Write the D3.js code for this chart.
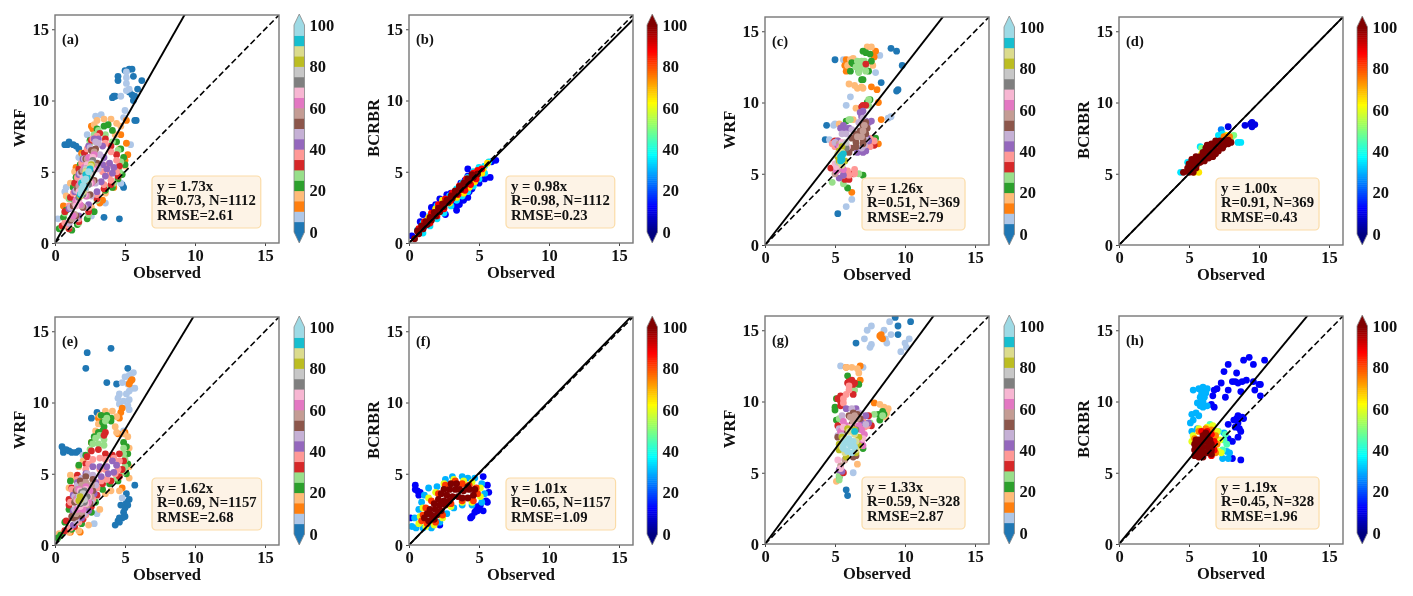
<!DOCTYPE html>
<html>
<head>
<meta charset="utf-8">
<script src="https://cdn.jsdelivr.net/npm/d3@7"></script>
<style>
  html, body { margin: 0; padding: 0; background: #fff; }
  svg { display: block; font-family: "Liberation Serif", serif; font-weight: bold; filter: blur(0.35px); }
</style>
</head>
<body>
<div id="chart"></div>
<script>
// values; each row is [density, x, y, x, y, ...]
const pointsA = [
  [3, 5.3,12.2, 5.0,12.1, 5.5,12.2, 4.5,11.7, 4.5,11.4, 5.6,11.7, 6.2,11.4, 5.3,10.6, 5.5,10.4, 5.7,10.3, 5.9,10.8, 5.6,10.0, 4.2,10.3, 4.3,10.3, 4.1,10.2, 5.8,8.6, 5.7,8.6, 0.7,6.9, 0.9,6.9, 1.0,7.1, 1.3,6.9, 1.5,6.8, 1.7,6.6, 3.5,1.8, 4.6,1.7, 4.9,3.9, 4.8,4.1],
  [8, 5.1,12.0, 5.1,11.6, 5.1,11.2, 5.3,10.8, 5.1,10.7, 4.7,10.3, 5.0,9.3, 4.9,8.8, 2.9,8.9, 3.3,9.0, 2.3,7.6, 1.7,6.0, 5.4,6.9, 4.7,4.2, 2.6,1.9, 3.6,2.8, 0.2,1.7, 0.8,3.9, 0.7,3.6],
  [13, 2.6,8.2, 2.7,8.0, 5.1,8.6, 4.7,7.6, 5.1,7.0, 5.2,6.2, 3.4,3.0, 3.2,2.8, 4.2,3.9, 1.5,5.3, 0.6,2.6, 1.9,6.3, 5.0,5.8],
  [18, 3.0,8.6, 3.5,8.7, 4.0,8.7, 4.4,8.4, 2.8,8.3, 4.7,8.2, 4.3,7.6, 1.4,5.0, 1.1,4.2, 0.8,3.3, 3.6,3.5, 2.6,2.5, 4.6,6.6, 5.0,5.4],
  [23, 3.0,8.0, 3.5,8.2, 3.8,8.3, 4.1,7.9, 4.4,7.1, 4.7,6.6, 4.9,6.0, 5.0,5.5, 4.8,4.8, 4.5,4.5, 4.1,3.9, 3.6,3.7, 2.8,2.2, 2.3,1.7, 1.6,1.3, 1.2,0.9, 0.3,1.0, 0.6,1.8, 0.8,2.3, 1.1,3.1, 1.3,3.9, 1.5,4.6, 1.8,5.5, 2.1,6.3, 2.5,7.2],
  [28, 3.1,7.9, 3.6,7.6, 4.1,7.1, 4.5,6.5, 4.7,5.7, 4.6,5.0, 4.2,4.2, 3.6,3.9, 3.0,3.0, 2.4,2.0, 1.7,1.4, 1.0,1.0, 0.5,1.1, 0.7,2.1, 1.0,3.1, 1.4,4.2, 1.7,5.2, 2.0,6.1, 2.5,7.0, 2.8,7.6],
  [33, 3.2,7.7, 3.6,7.3, 4.0,6.8, 4.4,6.2, 4.6,5.4, 4.5,4.7, 4.0,4.1, 3.5,3.8, 3.0,3.1, 2.4,2.2, 1.7,1.5, 1.0,1.0, 0.5,1.2, 0.7,2.2, 1.1,3.2, 1.4,4.2, 1.7,5.2, 2.1,6.3, 2.6,7.2],
  [38, 3.0,7.5, 3.6,7.0, 4.0,6.4, 4.4,5.8, 4.4,5.0, 4.0,4.4, 3.5,4.1, 3.0,3.4, 2.4,2.5, 1.7,1.7, 1.0,1.2, 0.7,1.4, 1.0,2.6, 1.3,3.5, 1.6,4.6, 1.9,5.6, 2.3,6.6, 2.7,7.3, 3.8,5.5, 3.4,5.0, 3.9,4.8],
  [43, 3.1,7.3, 3.4,6.8, 3.5,6.0, 3.9,5.6, 4.2,5.3, 4.1,4.9, 3.6,4.7, 3.3,4.3, 3.0,3.6, 2.4,2.7, 1.7,1.9, 1.0,1.4, 1.0,2.4, 1.4,3.6, 1.7,4.8, 2.0,5.9, 2.4,6.8, 2.8,7.3, 3.7,5.2, 3.4,5.5],
  [48, 3.1,7.0, 3.2,6.2, 3.1,5.2, 2.9,4.2, 2.6,3.3, 2.1,2.5, 1.5,1.7, 1.0,1.4, 1.1,2.5, 1.5,3.7, 1.8,4.9, 2.1,5.9, 2.5,6.7, 2.9,7.1],
  [53, 2.9,6.6, 3.0,5.6, 2.8,4.4, 2.5,3.4, 2.0,2.5, 1.5,1.9, 1.1,1.6, 1.3,2.6, 1.6,3.8, 1.9,5.0, 2.2,5.9, 2.6,6.5],
  [58, 2.8,6.4, 2.9,5.4, 2.7,4.3, 2.3,3.3, 1.9,2.6, 1.4,2.0, 1.2,1.7, 1.4,2.8, 1.7,4.0, 2.0,5.1, 2.3,5.9],
  [63, 2.8,6.2, 2.8,5.2, 2.6,4.2, 2.2,3.3, 1.8,2.7, 1.3,1.9, 1.5,3.0, 1.8,4.2, 2.1,5.3, 2.4,6.0],
  [68, 2.7,6.0, 2.7,5.1, 2.5,4.2, 2.1,3.4, 1.7,3.0, 1.5,2.6, 1.7,3.6, 2.0,4.6, 2.3,5.5],
  [73, 2.7,5.8, 2.6,4.9, 2.4,4.1, 2.0,3.4, 1.7,3.2, 1.9,4.2, 2.2,5.2],
  [78, 2.6,5.6, 2.5,4.8, 2.2,3.8, 1.8,3.4, 1.9,4.3, 2.2,5.2],
  [83, 2.6,5.5, 2.4,4.5, 2.0,3.6, 1.8,3.3, 1.9,4.2, 2.2,5.0],
  [88, 2.55,5.4, 2.35,4.5, 2.0,3.6, 1.85,3.4, 1.95,4.2, 2.2,5.0],
  [93, 2.5,5.2, 2.3,4.6, 2.1,3.9, 1.8,3.4, 1.9,4.2, 2.2,4.8],
  [98, 2.4,5.0, 2.2,4.5, 2.0,4.0, 2.1,4.4, 1.85,3.5, 1.9,3.8]
];
const pointsB = [
  [12, 4.2,5.2, 4.5,4.9, 4.2,4.7, 0.2,0.5, 1.0,2.0, 0.8,1.5, 1.1,1.2, 2.2,3.1, 2.5,2.9, 2.7,3.4, 3.0,3.5, 3.4,3.6, 3.3,2.6, 3.4,2.3, 3.6,2.7, 2.6,2.0, 2.2,2.2, 3.9,3.0, 4.2,3.2, 4.3,3.6, 3.7,3.0, 4.5,4.2, 5.9,5.7, 6.2,5.8, 5.8,4.6, 5.4,4.5, 5.0,4.2, 4.5,3.8, 1.6,2.5, 1.9,2.7, 1.5,1.6, 3.0,2.9, 3.7,4.2, 4.0,4.4],
  [35, 0.6,0.9, 1.0,1.4, 1.5,1.9, 2.0,2.6, 2.4,3.0, 2.9,3.3, 3.4,3.8, 3.8,4.2, 4.2,4.6, 4.6,5.0, 5.0,5.3, 5.4,5.4, 5.7,5.7, 5.4,4.9, 5.0,4.5, 4.6,4.0, 4.2,3.6, 3.8,3.3, 3.4,3.0, 3.0,2.6, 2.5,2.1, 2.0,1.7, 1.5,1.2, 1.0,0.7],
  [65, 5.3,5.2, 5.6,5.6, 5.2,4.9, 4.9,4.8, 4.7,4.3, 4.3,3.9, 3.9,3.5, 3.4,3.2, 2.9,2.8, 2.4,3.0, 1.9,2.4, 1.4,1.8],
  [88, 5.2,5.2, 4.9,5.1, 4.6,4.9, 4.8,4.5, 4.4,4.1, 4.0,3.7, 3.5,3.4, 3.0,3.0, 2.5,2.4, 2.0,1.9, 1.5,1.4, 1.0,1.0, 0.7,1.0, 1.1,1.5, 1.6,2.1, 2.1,2.7, 2.6,3.1, 3.1,3.5, 3.6,4.0, 4.1,4.5],
  [100, 0.4,0.3, 0.7,0.65, 1.0,1.0, 1.3,1.3, 1.6,1.6, 1.9,1.9, 2.2,2.2, 2.5,2.55, 2.8,2.85, 3.1,3.15, 3.4,3.45, 3.7,3.75, 4.0,4.05, 4.3,4.35, 4.6,4.6, 4.9,4.85, 0.6,0.85, 0.9,1.2, 1.2,1.5, 1.5,1.8, 1.8,2.15, 2.1,2.45, 2.4,2.75, 2.7,3.0, 3.0,3.3, 3.3,3.65, 3.6,3.95, 3.9,4.2, 4.2,4.5, 4.5,4.8]
];
const pointsC = [
  [3, 5.0,13.0, 9.0,13.8, 9.4,13.6, 9.8,12.6, 8.3,11.4, 9.4,10.8, 9.5,10.9, 4.4,8.4, 4.3,7.4, 5.2,2.2],
  [8, 5.6,13.0, 8.2,13.3, 7.9,12.1, 6.1,10.4, 5.8,9.8, 4.9,8.4, 5.0,8.5, 8.8,8.9, 9.0,9.0, 4.6,7.4, 6.2,3.2, 5.8,2.7],
  [13, 5.8,13.0, 5.7,12.6, 5.8,12.2, 7.9,13.6, 7.8,13.2, 7.6,11.1, 8.0,10.9, 8.1,10.0, 8.3,8.8, 8.1,7.1, 6.2,3.7],
  [18, 7.3,13.9, 7.6,13.9, 6.1,13.0, 6.3,13.1, 5.9,12.6, 7.7,12.6, 6.0,11.3, 6.4,11.2, 6.6,11.0, 6.9,11.1, 7.0,11.0, 6.5,9.6, 5.3,8.5, 6.3,8.8],
  [23, 7.0,13.6, 7.2,13.5, 7.5,13.4, 6.2,12.8, 6.3,12.7, 6.1,12.2, 6.7,12.2, 7.4,12.2, 7.0,11.6, 6.9,11.6, 7.6,12.9, 5.8,8.7, 7.5,10.2, 5.9,4.0, 7.3,10.0, 7.9,7.5, 7.0,4.9],
  [28, 6.6,12.9, 6.7,12.7, 6.8,12.4, 6.9,12.9, 7.2,12.6, 7.1,12.9, 6.5,12.5, 6.7,12.1, 7.2,12.2, 7.4,10.2, 7.4,9.8, 6.1,8.8, 5.6,4.3, 4.8,4.4, 6.0,8.8, 7.8,7.3, 6.7,5.0],
  [33, 7.2,12.7, 7.0,9.8, 7.2,9.8, 6.9,9.7, 4.7,5.4, 5.7,4.6, 6.0,4.6, 6.3,5.0, 7.8,7.0, 4.9,7.2, 5.0,7.3],
  [38, 7.8,7.3, 6.4,5.3, 6.4,5.0, 6.0,4.9, 7.5,6.9, 7.5,7.5, 5.9,5.2, 5.6,4.9, 5.2,7.0, 4.8,7.1, 5.0,6.9, 5.2,7.3],
  [43, 6.8,9.3, 7.0,9.4, 6.9,9.0, 5.4,8.2, 5.6,8.4, 6.0,8.2, 5.7,8.0, 5.2,7.3, 5.2,7.0, 7.0,6.5, 7.2,6.6, 6.6,6.5, 7.4,7.3, 7.3,7.5, 5.3,4.7, 5.6,4.9, 7.2,8.7, 7.4,8.6, 7.6,8.7],
  [48, 5.8,7.8, 6.2,8.1, 5.5,7.8, 5.0,7.2, 7.1,7.0, 6.9,6.8, 7.2,7.4, 6.7,8.6, 7.0,8.9],
  [53, 7.2,8.6, 7.0,8.4, 7.3,8.2, 6.8,8.0, 7.2,7.8, 6.5,7.8, 6.2,7.5, 6.5,7.2, 7.0,7.4, 7.0,7.1, 6.5,6.9, 6.2,6.8, 6.0,6.5],
  [58, 7.1,8.4, 7.0,8.0, 6.9,7.6, 6.6,7.6, 5.3,5.3, 5.0,5.0, 5.3,7.1],
  [63, 5.3,6.9, 5.1,5.2, 5.6,5.3],
  [68, 5.4,6.8, 5.7,7.1, 5.5,7.2, 5.1,5.5, 5.0,5.7, 5.9,6.9],
  [73, 5.8,6.8, 5.6,7.0],
  [78, 5.8,7.2, 5.5,7.0, 5.2,5.8],
  [83, 5.3,5.9, 5.3,6.6, 5.5,6.9, 5.7,5.9, 5.2,6.2],
  [88, 5.4,5.8, 5.5,5.6, 5.5,6.5, 5.2,6.4],
  [93, 5.5,6.3, 5.5,6.0, 5.4,5.9, 5.6,6.4, 5.4,6.2]
];
const pointsD = [
  [10, 9.0,8.4, 9.4,8.5, 9.5,8.3, 9.7,8.45, 9.5,8.6, 7.8,8.3],
  [25, 7.3,8.1],
  [35, 7.1,7.7, 7.4,7.8, 8.5,7.2, 8.7,7.2, 5.8,6.9, 4.4,5.1, 4.9,5.8],
  [50, 8.2,7.7, 8.0,7.5, 5.9,6.8],
  [65, 7.7,7.7, 5.7,5.1, 5.4,5.1, 5.9,6.4],
  [75, 7.9,7.6, 7.5,7.6],
  [100, 4.6,5.1, 5.0,5.1, 5.3,5.1, 4.9,5.4, 5.2,5.4, 5.5,5.4, 5.0,5.7, 5.3,5.7, 5.6,5.7, 5.2,6.0, 5.5,6.0, 5.8,5.8, 6.1,5.9, 5.5,6.2, 5.8,6.2, 6.1,6.2, 6.4,6.1, 6.7,6.2, 6.0,6.5, 6.3,6.5, 6.6,6.5, 6.9,6.4, 6.2,6.8, 6.5,6.8, 6.8,6.8, 7.1,6.6, 7.4,6.8, 6.3,7.0, 6.6,7.1, 6.9,7.1, 7.2,7.0, 7.5,7.0, 7.8,7.1, 8.0,7.2, 7.2,7.3, 7.5,7.3, 7.8,7.35, 6.9,7.3]
];
const pointsE = [
  [3, 2.3,13.5, 4.0,13.8, 2.2,12.4, 3.7,11.4, 4.4,11.3, 5.2,12.4, 0.5,6.9, 0.6,6.7, 0.6,6.5, 0.8,6.7, 1.0,6.6, 1.2,6.5, 1.5,6.5, 1.7,6.6, 5.7,4.2, 5.1,3.6, 5.3,3.2, 5.1,3.0, 4.7,2.8, 5.0,2.6, 4.9,2.3, 5.0,2.0, 4.8,1.9, 4.5,1.7, 4.3,1.4, 4.6,1.9, 5.2,2.8, 4.6,1.6, 2.6,8.9, 3.0,9.3],
  [8, 5.6,12.1, 5.3,11.9, 5.0,11.8, 5.5,11.6, 4.8,11.4, 5.2,11.3, 5.5,11.0, 5.7,11.0, 5.3,10.8, 4.6,10.6, 4.5,10.3, 5.1,10.6, 5.3,10.2, 4.9,10.1, 5.2,9.8, 5.3,9.5, 4.6,9.9, 4.9,8.0, 2.0,6.3, 4.8,3.3, 3.0,2.2, 2.8,1.5],
  [13, 5.4,11.5, 5.5,11.6, 5.3,11.3, 4.8,9.6, 4.7,9.3, 4.6,8.9, 3.1,8.9, 2.6,7.2, 4.5,7.8, 5.0,7.9, 1.1,0.9, 1.8,0.9, 4.8,4.0],
  [18, 3.2,9.1, 3.6,9.4, 4.1,9.4, 4.4,9.0, 4.3,8.3, 3.1,8.5, 4.4,7.9, 4.9,7.8, 5.2,7.6, 5.3,6.8, 5.3,5.5, 5.3,4.7, 4.6,3.8, 4.0,3.8, 3.6,3.6, 3.2,2.5, 2.4,1.4, 1.7,1.0, 1.0,0.9, 0.3,0.8, 1.1,3.0, 1.0,4.0, 1.1,4.9, 1.2,4.6, 1.7,5.5, 2.0,5.9, 2.9,8.0],
  [23, 3.3,9.1, 3.7,9.1, 4.0,8.9, 3.4,8.6, 3.5,8.3, 4.0,8.7, 2.6,7.2, 2.8,7.6, 3.1,7.9, 3.4,8.0, 4.9,7.2, 5.1,6.9, 5.2,6.4, 5.2,5.7, 5.1,5.0, 4.5,4.5, 3.9,4.3, 3.4,3.9, 2.9,3.0, 2.6,2.3, 1.9,1.5, 1.2,1.1, 0.4,0.7, 0.2,0.5, 1.1,4.5, 1.7,5.6, 2.2,6.3, 1.0,2.5, 0.7,1.6],
  [28, 2.9,7.5, 3.2,7.7, 3.5,7.4, 2.7,7.1, 3.1,7.1, 3.5,7.0, 2.5,6.7, 4.9,6.8, 4.9,6.4, 5.0,6.0, 5.0,5.5, 4.9,5.1, 4.4,4.7, 3.7,8.9, 3.6,8.7],
  [33, 3.6,7.9, 3.5,7.7, 2.6,6.6, 3.1,6.7, 3.6,6.4, 4.1,6.3, 4.6,6.4, 4.9,5.9, 4.8,5.3, 4.6,4.8, 4.0,4.5, 3.4,4.3, 3.0,3.5, 2.6,2.7, 2.0,1.8, 1.4,1.3, 0.7,1.0, 0.8,1.7, 1.0,2.8, 1.0,3.2, 1.2,4.0, 1.6,4.9, 2.2,5.7, 2.3,6.2],
  [38, 2.7,6.0, 3.2,6.1, 3.6,6.0, 4.2,6.1, 4.6,5.9, 4.5,5.3, 4.3,5.0, 3.7,4.6, 3.3,4.5, 3.0,4.0, 2.7,3.2, 2.2,2.1, 1.7,1.6, 1.1,1.2, 1.2,2.0, 1.1,3.0, 1.2,3.9, 1.6,4.6, 2.2,5.3, 2.4,5.7, 3.6,5.3, 3.2,5.3],
  [43, 2.7,5.5, 3.2,5.5, 3.7,5.5, 4.1,5.9, 4.4,5.6, 4.2,5.1, 3.8,5.0, 3.3,4.8, 2.9,4.4, 2.8,3.6, 2.4,2.4, 1.9,1.9, 1.3,1.4, 1.3,2.4, 1.3,3.5, 1.6,4.4, 2.2,5.0],
  [48, 2.3,5.0, 2.7,4.9, 2.9,4.2, 2.6,3.0, 2.1,2.2, 1.5,1.7, 1.4,2.5, 1.4,3.4, 1.6,4.2, 1.9,4.7],
  [53, 2.2,4.8, 2.7,4.6, 2.7,3.8, 2.5,2.9, 1.9,2.1, 1.3,1.9, 1.2,2.0, 1.5,2.0, 1.4,3.0, 1.5,3.8, 1.8,4.5],
  [58, 2.2,4.4, 2.6,4.2, 2.6,3.4, 2.3,2.8, 1.9,2.3, 1.5,2.2, 1.5,3.2, 1.6,3.9, 1.9,4.2],
  [63, 2.2,4.1, 2.5,3.8, 2.4,3.0, 2.0,2.5, 1.6,2.5, 1.6,3.3, 1.7,3.9],
  [68, 2.2,3.9, 2.4,3.4, 2.2,2.9, 1.8,2.7, 1.6,3.1, 1.8,3.8],
  [73, 2.1,3.8, 2.3,3.4, 2.1,3.0, 1.8,2.9, 1.7,3.4, 1.9,3.7],
  [78, 2.0,3.6, 2.1,3.2, 1.8,3.0, 1.7,3.4],
  [83, 1.8,3.4, 1.8,3.2, 1.7,3.1]
];
const pointsF = [
  [12, 0.45,4.2, 0.45,3.9, 0.6,3.8, 0.7,3.5, 0.8,3.7, 5.3,4.8, 5.6,4.2, 5.7,3.7, 5.6,3.0, 5.5,3.1, 5.3,2.4, 5.0,2.6, 4.9,2.4, 4.7,2.3, 4.5,2.0, 4.4,1.9, 4.8,2.7, 5.1,2.8, 0.1,1.9, 2.2,1.4],
  [30, 0.2,1.3, 0.5,1.2, 1.0,1.2, 1.6,1.2, 2.2,1.6, 2.7,2.2, 3.2,2.6, 3.8,2.8, 4.5,2.8, 5.2,3.0, 5.4,3.6, 5.2,4.3, 4.7,4.7, 4.2,4.7, 3.8,4.8, 3.1,4.8, 2.6,4.6, 2.0,4.1, 1.4,4.0, 1.1,3.5, 0.9,3.0, 0.7,2.5, 0.4,1.9],
  [60, 0.7,1.5, 1.2,1.3, 1.8,1.4, 2.4,1.9, 3.0,2.7, 3.8,3.0, 4.5,3.0, 5.1,3.4, 5.1,4.0, 4.5,4.4, 3.9,4.5, 3.2,4.6, 2.5,4.3, 1.9,3.7, 1.4,3.3, 1.0,2.6, 0.8,2.0],
  [82, 0.9,1.7, 1.3,1.5, 1.9,1.6, 2.4,2.1, 3.0,2.9, 3.8,3.1, 4.6,3.1, 4.9,3.6, 4.8,4.0, 4.3,4.2, 3.8,4.3, 3.3,4.5, 2.6,4.2, 2.1,3.6, 1.6,3.1, 1.2,2.6, 1.0,2.1],
  [100, 1.1,1.9, 1.4,1.7, 1.8,1.8, 1.3,2.2, 1.6,2.1, 2.0,2.1, 1.5,2.5, 1.9,2.5, 2.3,2.4, 1.8,2.9, 2.2,2.8, 2.6,2.8, 2.1,3.2, 2.5,3.1, 2.9,3.1, 2.3,3.6, 2.7,3.5, 3.1,3.4, 2.5,3.9, 2.9,3.9, 3.3,3.9, 3.0,4.3, 3.4,4.3, 3.5,3.4, 3.8,3.3, 4.2,3.3, 4.6,3.5, 4.7,3.9, 4.3,3.9, 3.9,3.8, 3.6,3.9, 4.2,4.1]
];
const pointsG = [
  [3, 9.3,15.9, 9.5,15.3, 10.4,15.6, 9.5,14.7, 6.5,14.1, 5.8,3.8, 5.9,3.4],
  [8, 7.6,15.3, 7.3,15.0, 8.5,15.0, 8.9,15.6, 9.0,14.7, 7.1,14.4, 7.6,14.0, 7.5,13.8, 8.6,14.4, 8.7,14.1, 10.3,14.4, 10.0,14.1, 10.1,13.8, 9.7,13.5, 5.4,12.5, 7.0,12.4, 6.3,5.0],
  [13, 8.2,14.6, 8.3,14.7, 8.3,14.5, 8.4,14.4, 5.8,12.4, 6.8,12.5, 6.8,11.5, 7.8,9.9],
  [18, 6.2,12.4, 6.6,12.3, 6.7,12.0, 5.8,12.4, 8.2,9.8, 8.5,9.6, 8.8,9.5, 8.7,9.2, 8.6,8.9, 5.1,4.4, 6.6,5.6],
  [23, 5.9,11.8, 6.7,11.2, 5.1,10.2, 5.0,9.6, 5.0,9.4, 5.1,8.7, 8.2,8.7, 8.1,9.1, 8.4,9.3, 8.5,9.1, 7.0,6.7, 5.3,4.7],
  [28, 6.4,10.8, 5.3,8.8, 7.5,8.5, 7.8,9.1, 8.4,9.0, 5.3,4.5, 5.3,4.8],
  [33, 6.0,11.4, 6.2,11.5, 5.9,11.3, 6.4,11.3, 6.3,11.2, 6.3,10.5, 5.4,9.7, 5.4,10.0, 5.2,10.2, 5.4,10.4, 7.6,8.3, 7.4,9.0, 5.2,8.3, 5.6,5.0],
  [38, 6.0,11.1, 6.0,10.8, 5.8,10.5, 5.6,10.2, 5.6,9.9, 7.3,8.3, 7.0,8.6, 7.1,8.2, 6.3,8.2, 5.4,8.0],
  [43, 5.8,9.5, 6.5,9.5, 7.4,8.5, 7.2,9.0, 5.3,5.2, 5.5,5.1, 5.4,8.0, 6.9,8.5],
  [48, 5.5,9.0, 7.2,8.4, 6.2,9.5, 6.7,9.2, 5.2,7.6, 5.3,8.1],
  [53, 6.0,9.0, 6.3,9.2, 6.6,9.1, 6.8,8.8, 5.7,8.1, 5.6,7.7, 6.2,8.4, 6.5,6.2, 6.3,6.1, 5.2,7.5],
  [58, 6.1,8.9, 6.4,9.0, 6.6,8.8, 6.3,8.6, 5.4,5.5, 5.7,5.9],
  [63, 5.6,8.6, 5.8,8.3, 6.7,8.3, 6.9,8.0, 7.1,7.7, 6.9,7.1, 7.0,6.9, 5.4,7.9],
  [68, 5.6,8.2, 6.1,8.2, 6.3,7.9, 5.2,5.9, 5.4,5.3, 7.0,7.4],
  [73, 6.5,8.0],
  [78, 6.1,8.0, 5.5,7.6],
  [83, 5.5,7.5, 5.9,8.1, 6.4,8.0, 6.7,7.5, 6.7,6.9, 6.5,6.4, 5.8,6.1, 5.3,6.6, 5.3,7.0],
  [88, 5.6,7.3, 6.0,7.9, 6.4,7.7, 6.5,7.2, 6.5,6.6, 5.7,6.4, 5.5,6.8],
  [93, 6.4,7.9],
  [98, 6.0,7.4, 6.3,7.2, 5.7,7.1, 6.1,6.9, 6.4,6.8, 5.6,6.7, 5.9,6.5, 6.2,6.4, 5.8,7.2, 5.6,6.9, 6.1,7.2]
];
const pointsH = [
  [12, 9.3,13.1, 8.9,12.9, 10.4,12.9, 9.6,12.6, 7.8,12.6, 7.5,12.1, 8.4,12.0, 7.3,11.3, 8.1,11.4, 8.3,11.4, 8.5,11.3, 8.8,11.4, 9.1,11.5, 9.6,11.4, 10.0,11.2, 10.1,11.2, 7.8,10.8, 7.6,10.3, 8.7,10.7, 9.7,10.8, 10.1,10.4, 8.2,8.7, 8.4,8.8, 8.5,9.0, 8.8,8.9, 8.9,8.8, 7.8,8.4, 8.3,8.2, 8.6,8.1, 8.7,7.9, 8.5,8.5, 8.5,7.5, 8.1,7.2, 7.8,7.4, 8.1,6.0, 8.7,5.9, 7.0,10.9, 6.8,10.8, 6.7,10.4, 6.6,9.8, 6.8,9.6],
  [30, 5.3,10.8, 5.7,10.9, 6.0,11.0, 6.3,10.9, 6.2,10.6, 5.9,10.6, 5.8,10.3, 6.1,10.3, 6.0,10.0, 5.6,9.9, 5.8,9.7, 6.0,9.6, 6.3,9.7, 5.5,9.2, 5.2,9.1, 5.7,9.0, 5.1,8.5, 5.3,8.7, 5.2,7.9, 5.6,8.1, 7.4,6.0, 7.8,6.0, 7.7,6.5, 7.9,6.4, 7.5,7.8],
  [45, 7.1,7.9, 7.6,7.7, 7.5,7.3, 7.7,7.0, 7.4,6.6, 6.5,8.4],
  [60, 5.7,8.1, 6.3,8.2, 6.7,8.3, 7.0,7.9, 7.2,7.3, 7.1,6.5, 5.2,7.2, 5.3,7.6, 7.3,6.4],
  [75, 5.7,7.9, 6.2,8.1, 6.6,8.0, 6.9,7.6, 7.0,7.0, 5.4,7.4, 6.9,6.4],
  [88, 5.9,7.9, 6.3,7.9, 6.6,7.7, 6.8,7.2, 6.8,6.6, 6.6,6.2],
  [100, 5.4,7.0, 5.4,6.6, 5.4,6.2, 5.7,7.3, 5.7,6.9, 5.7,6.5, 5.7,6.1, 6.0,7.6, 6.0,7.2, 6.0,6.8, 6.0,6.4, 6.0,6.1, 6.3,7.6, 6.3,7.2, 6.3,6.8, 6.3,6.4, 6.6,7.0, 6.6,6.6, 6.6,6.3, 5.5,7.3, 6.2,7.8, 6.5,7.3]
];

const panelPoints = [pointsA, pointsB, pointsC, pointsD, pointsE, pointsF, pointsG, pointsH];
const panelLabels = ['(a)', '(b)', '(c)', '(d)', '(e)', '(f)', '(g)', '(h)'];
const yTitles = ['WRF', 'BCRBR', 'WRF', 'BCRBR', 'WRF', 'BCRBR', 'WRF', 'BCRBR'];
const slopes = [1.73, 0.98, 1.26, 1.00, 1.62, 1.01, 1.33, 1.19];
const rValues = ['0.73', '0.98', '0.51', '0.91', '0.69', '0.65', '0.59', '0.45'];
const nValues = [1112, 1112, 369, 369, 1157, 1157, 328, 328];
const rmseValues = ['2.61', '0.23', '2.79', '0.43', '2.68', '1.09', '2.87', '1.96'];
const axisTicks = [0, 5, 10, 15];
const colorbarTicks = [0, 20, 40, 60, 80, 100];
const tab20Order = ['#1f77b4', '#aec7e8', '#ff7f0e', '#ffbb78', '#2ca02c', '#98df8a', '#d62728', '#ff9896', '#9467bd', '#c5b0d5',
  '#8c564b', '#c49c94', '#e377c2', '#f7b6d2', '#7f7f7f', '#c7c7c7', '#bcbd22', '#dbdb8d', '#17becf', '#9edae5'];

// layout
const width = 1413, height = 596;
const colLeft = [55, 409, 765, 1119];
const panelTop = [15, 15, 17, 17, 317, 317, 316, 316];
const barGap = [15, 14, 15, 14];
const axW = 224, axH = 228;

const tabScale = d3.scaleQuantize().domain([0, 100]).range(tab20Order);
const jetScale = d3.scaleLinear()
  .domain([0, 12.5, 37.5, 62.5, 87.5, 100])
  .range(['#00007f', '#0000ff', '#00ffff', '#ffff00', '#ff0000', '#7f0000'])
  .clamp(true);

const svg = d3.select('#chart').append('svg')
  .attr('width', width).attr('height', height)
  .attr('viewBox', `0 0 ${width} ${height}`);

panelLabels.forEach((label, i) => {
  const col = i % 4;
  const isTab = col % 2 === 0;
  const color = isTab ? tabScale : jetScale;
  const g = svg.append('g').attr('transform', `translate(${colLeft[col]},${panelTop[i]})`);

  const x = d3.scaleLinear().domain([0, 16]).range([0, axW]);
  const y = d3.scaleLinear().domain([0, 16]).range([axH, 0]);

  const clipId = `clip-${i}`;
  g.append('clipPath').attr('id', clipId).append('rect').attr('width', axW).attr('height', axH);

  const points = panelPoints[i].flatMap(row => {
    const out = [];
    for (let k = 1; k < row.length; k += 2) out.push({ z: row[0], x: row[k], y: row[k + 1] });
    return out;
  });

  const plot = g.append('g').attr('clip-path', `url(#${clipId})`);
  plot.selectAll('circle').data(points).join('circle')
    .attr('cx', d => x(d.x)).attr('cy', d => y(d.y))
    .attr('r', 3.4)
    .attr('fill', d => color(d.z));

  // 1:1 dashed, fit solid
  const line = d3.line().x(d => x(d[0])).y(d => y(d[1]));
  plot.append('path').attr('d', line([[0, 0], [16, 16]]))
    .attr('fill', 'none').attr('stroke', '#000').attr('stroke-width', 1.6).attr('stroke-dasharray', '6,3');
  plot.append('path').attr('d', line([[0, 0], [16, 16 * slopes[i]]]))
    .attr('fill', 'none').attr('stroke', '#000').attr('stroke-width', 1.9);

  const xAxis = g.append('g').attr('transform', `translate(0,${axH})`)
    .call(d3.axisBottom(x).tickValues(axisTicks).tickSize(3).tickPadding(3));
  const yAxis = g.append('g')
    .call(d3.axisLeft(y).tickValues(axisTicks).tickSize(3).tickPadding(3));
  g.append('rect').attr('width', axW).attr('height', axH)
    .attr('fill', 'none').attr('stroke', '#777').attr('stroke-width', 1.4);
  [xAxis, yAxis].forEach(a => {
    a.select('.domain').remove();
    a.selectAll('text').attr('font-size', 16.5).attr('font-family', 'Liberation Serif').attr('font-weight', 'bold').attr('fill', '#111');
    a.selectAll('line').attr('stroke', '#444');
  });

  g.append('text').attr('x', axW / 2).attr('y', axH + 35)
    .attr('text-anchor', 'middle').attr('font-size', 16.5).attr('fill', '#111').text('Observed');
  g.append('text').attr('transform', `translate(-30,${axH / 2 - 1}) rotate(-90)`)
    .attr('text-anchor', 'middle').attr('font-size', 16.5).attr('fill', '#111').text(yTitles[i]);
  g.append('text').attr('x', 7).attr('y', 29).attr('font-size', 14.5).attr('fill', '#111').text(label);

  // stats box
  const box = g.append('g').attr('transform', 'translate(97,161)');
  const boxRect = box.append('rect').attr('rx', 4).attr('ry', 4)
    .attr('fill', '#fdf3e6').attr('stroke', '#fbdca8').attr('stroke-width', 1.2);
  const statLines = [`y = ${slopes[i].toFixed(2)}x`, `R=${rValues[i]}, N=${nValues[i]}`, `RMSE=${rmseValues[i]}`];
  const statText = box.selectAll('text').data(statLines).join('text')
    .attr('x', 5).attr('y', (d, k) => 15 + k * 14.3)
    .attr('font-size', 14.7).attr('fill', '#111').text(d => d);
  const textW = d3.max(statText.nodes(), n => n.getComputedTextLength());
  boxRect.attr('width', textW + 10).attr('height', 52);

  // colorbar
  const barX = axW + barGap[col], barW = 10.5;
  const bar = g.append('g').attr('transform', `translate(${barX},0)`);
  const cy = d3.scaleLinear().domain([0, 100]).range([axH - 11, 10]);
  const steps = isTab ? d3.range(0, 100, 5) : d3.range(0, 100, 1);
  const stepH = isTab ? 5 : 1;
  bar.append('path').attr('d', `M0,${cy(100)}L${barW / 2},${cy(100) - 11}L${barW},${cy(100)}Z`).attr('fill', color(100));
  bar.append('path').attr('d', `M0,${cy(0)}L${barW / 2},${cy(0) + 11}L${barW},${cy(0)}Z`).attr('fill', color(0));
  bar.selectAll('rect').data(steps).join('rect')
    .attr('x', 0).attr('width', barW)
    .attr('y', d => cy(d + stepH)).attr('height', d => cy(d) - cy(d + stepH) + 0.5)
    .attr('fill', d => color(d + stepH / 2));
  bar.append('path')
    .attr('d', `M0,${cy(100)}L${barW / 2},${cy(100) - 11}L${barW},${cy(100)}V${cy(0)}L${barW / 2},${cy(0) + 11}L0,${cy(0)}Z`)
    .attr('fill', 'none').attr('stroke', '#888').attr('stroke-width', 0.8);
  const barAxis = bar.append('g').attr('transform', `translate(${barW},0)`)
    .call(d3.axisRight(cy).tickValues(colorbarTicks).tickSize(0).tickPadding(5));
  barAxis.select('.domain').remove();
  barAxis.selectAll('text').attr('font-size', 16.5).attr('font-family', 'Liberation Serif').attr('font-weight', 'bold').attr('fill', '#111');
});
</script>
</body>
</html>
